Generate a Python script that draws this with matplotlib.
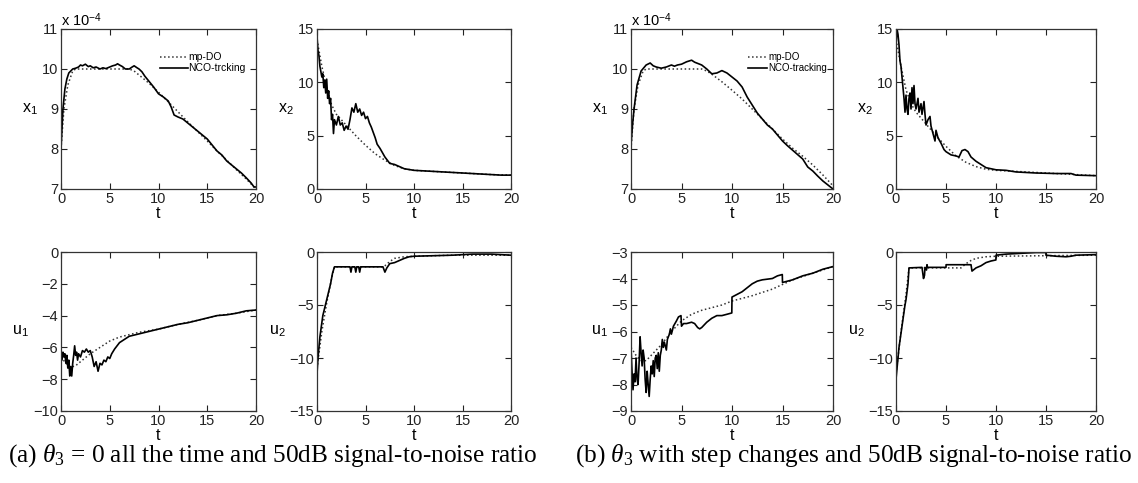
import matplotlib
matplotlib.use("Agg")
import matplotlib.pyplot as plt

plt.rcParams["font.family"] = ["Liberation Sans", "DejaVu Sans"]
plt.rcParams["mathtext.fontset"] = "custom"
plt.rcParams["mathtext.rm"] = "Liberation Serif"
plt.rcParams["mathtext.it"] = "Liberation Serif:italic"
plt.rcParams["mathtext.sf"] = "Liberation Sans"

# ---- data (x1 in units of 1e-4) ----
# shared time grids for the mp-DO (dotted) curves
mp_t_x1 = [0, 0.3, 0.7, 1.2, 1.5, 7.0, 7.5, 8.0, 9.0, 10.0, 11.0, 12.0, 13.0, 14.0, 15.0, 16.0, 17.0, 18.0, 19.0, 20.0]
mp_t_x2 = [0, 0.5, 1.0, 1.5, 2.0, 3.0, 4.0, 5.0, 6.0, 7.0, 8.0, 9.0, 10.0, 12.0, 14.0, 16.0, 18.0, 20.0]
mp_t_u1 = [0, 0.5, 1.0, 1.5, 2.0, 3.0, 4.0, 5.0, 6.0, 7.0, 8.0, 9.0, 10.0, 12.0, 14.0, 16.0, 18.0, 20.0]

# (a) theta3 = 0
a_x1_mp = [8.0, 9.0, 9.6, 9.95, 10.0, 10.0, 9.95, 9.85, 9.65, 9.42, 9.18, 8.93, 8.68, 8.44, 8.2, 7.95, 7.72, 7.48, 7.25, 7.0]
a_x1_t = [0, 0.2, 0.4, 0.6, 0.8, 1.0, 1.2, 1.5, 1.8, 2.0,
          2.2, 2.5, 2.8, 3.0, 3.3, 3.6, 4.0, 4.3, 4.6, 5.0,
          5.3, 5.6, 5.8, 6.0, 6.3, 6.6, 7.0, 7.3, 7.5, 7.8,
          8.0, 8.3, 8.6, 9.0, 9.5, 10.0, 10.5, 11.0, 11.3, 11.6,
          12.0, 12.5, 13.0, 13.5, 14.0, 14.5, 15.0, 15.5, 16.0, 16.5,
          17.0, 17.5, 18.0, 18.5, 19.0, 19.5, 19.8, 20.0]
a_x1_nco = [8.0, 9.0, 9.5, 9.75, 9.9, 9.95, 10.0, 10.02, 10.05, 10.1,
            10.08, 10.12, 10.06, 10.08, 10.03, 10.05, 10.0, 10.03, 10.01, 10.05,
            10.08, 10.1, 10.13, 10.1, 10.06, 10.0, 10.0, 10.05, 10.08, 10.03,
            10.0, 9.93, 9.82, 9.7, 9.55, 9.38, 9.3, 9.2, 9.05, 8.85,
            8.8, 8.75, 8.65, 8.55, 8.45, 8.35, 8.25, 8.1, 7.95, 7.85,
            7.7, 7.6, 7.5, 7.4, 7.28, 7.15, 7.05, 7.05]

a_x2_mp = [14.0, 11.5, 9.5, 7.9, 7.0, 6.0, 5.0, 4.1, 3.3, 2.7, 2.2, 1.9, 1.75, 1.65, 1.55, 1.45, 1.35, 1.3]
a_x2_t = [0, 0.1, 0.2, 0.3, 0.4, 0.5, 0.6, 0.7, 0.8, 0.9,
          1.0, 1.1, 1.2, 1.3, 1.4, 1.5, 1.6, 1.7, 1.8, 2.0,
          2.2, 2.4, 2.6, 2.8, 3.0, 3.2, 3.4, 3.6, 3.8, 4.0,
          4.2, 4.4, 4.6, 4.8, 5.0, 5.2, 5.4, 5.6, 5.8, 6.0,
          6.2, 6.5, 7.0, 7.5, 8.0, 8.5, 9.0, 10.0, 12.0, 14.0,
          16.0, 18.0, 19.0, 20.0]
a_x2_nco = [14.3, 13.0, 12.5, 11.5, 11.0, 10.5, 10.8, 9.5, 10.2, 9.0,
            10.3, 8.5, 9.2, 8.0, 8.5, 6.5, 7.0, 5.2, 6.5, 6.0,
            6.8, 6.0, 6.2, 5.5, 5.9, 5.6, 6.5, 7.6, 7.2, 8.0,
            7.2, 7.5, 6.9, 7.2, 6.6, 6.8, 6.2, 5.8, 5.3, 4.8,
            4.2, 3.8, 3.0, 2.4, 2.3, 2.1, 1.9, 1.75, 1.65, 1.55,
            1.45, 1.35, 1.3, 1.3]

a_u1_mp = [-6.6, -7.0, -7.25, -7.15, -6.9, -6.4, -6.0, -5.6, -5.35, -5.2, -5.05, -4.95, -4.85, -4.55, -4.3, -4.0, -3.85, -3.65]
a_u1_t = [0, 0.1, 0.2, 0.3, 0.4, 0.5, 0.6, 0.7, 0.8, 0.9,
          1.0, 1.1, 1.2, 1.3, 1.4, 1.5, 1.6, 1.7, 1.8, 2.0,
          2.2, 2.4, 2.6, 2.8, 3.0, 3.2, 3.4, 3.6, 3.8, 4.0,
          4.2, 4.4, 4.6, 4.8, 5.0, 5.2, 5.5, 6.0, 6.5, 7.0,
          8.0, 9.0, 10.0, 11.0, 12.0, 13.0, 14.0, 15.0, 16.0, 17.0,
          18.0, 19.0, 20.0]
a_u1_nco = [-6.2, -6.8, -6.3, -6.6, -6.4, -7.0, -6.5, -7.3, -6.8, -7.8,
            -7.2, -7.8, -7.0, -6.5, -5.9, -6.5, -6.3, -6.8, -6.4, -6.6,
            -6.2, -6.3, -6.1, -6.3, -6.2, -6.6, -7.2, -6.9, -7.5, -7.0,
            -7.1, -6.8, -6.9, -6.6, -6.7, -6.4, -6.1, -5.7, -5.5, -5.3,
            -5.15, -5.0, -4.85, -4.7, -4.55, -4.45, -4.3, -4.15, -4.0, -3.95,
            -3.85, -3.7, -3.65]

a_u2_mp_t = [0, 0.5, 1.0, 1.5, 1.8, 6.8, 7.0, 7.5, 8.0, 9.0, 10.0, 14.0, 20.0]
a_u2_mp = [-11.0, -7.5, -4.8, -2.5, -1.4, -1.4, -1.3, -0.9, -0.6, -0.45, -0.4, -0.3, -0.3]
a_u2_t = [0, 0.1, 0.3, 0.6, 1.0, 1.4, 1.6, 1.8, 3.4, 3.5,
          3.6, 3.9, 4.0, 4.1, 4.3, 4.4, 4.5, 6.8, 7.0, 7.2,
          7.5, 8.0, 8.5, 9.0, 9.5, 10.0, 12.0, 14.0, 16.0, 18.0, 20.0]
a_u2_nco = [-11.5, -10.0, -8.0, -6.0, -4.5, -3.0, -2.0, -1.4, -1.4, -1.9,
            -1.4, -1.4, -1.9, -1.4, -1.4, -1.9, -1.4, -1.4, -1.9, -1.5,
            -1.1, -1.0, -0.8, -0.6, -0.45, -0.4, -0.35, -0.3, -0.2, -0.2, -0.3]

# (b) theta3 with step changes
b_x1_mp = [8.0, 9.0, 9.6, 9.95, 10.0, 10.0, 9.95, 9.87, 9.68, 9.47, 9.25, 9.0, 8.75, 8.5, 8.25, 8.02, 7.82, 7.6, 7.35, 7.08]
b_x1_t = [0, 0.15, 0.3, 0.6, 1.0, 1.5, 1.9, 2.2, 2.5, 3.0,
          3.5, 4.0, 4.3, 4.6, 5.0, 5.5, 6.0, 6.3, 6.6, 7.0,
          7.5, 8.0, 8.5, 9.0, 9.5, 10.0, 10.5, 11.0, 11.5, 12.0,
          12.5, 13.0, 13.5, 14.0, 14.5, 15.0, 15.5, 16.0, 16.5, 17.0,
          17.5, 18.0, 18.5, 19.0, 19.5, 20.0]
b_x1_nco = [8.1, 8.6, 9.0, 9.6, 9.95, 10.1, 10.15, 10.08, 10.05, 10.02,
            10.05, 10.1, 10.07, 10.1, 10.12, 10.18, 10.22, 10.17, 10.14, 10.1,
            10.0, 9.88, 9.9, 9.96, 9.9, 9.8, 9.7, 9.55, 9.3, 9.1,
            8.9, 8.75, 8.6, 8.5, 8.35, 8.2, 8.08, 7.97, 7.86, 7.75,
            7.55, 7.45, 7.32, 7.2, 7.1, 7.0]

b_x2_mp = [14.0, 11.5, 9.3, 8.0, 7.2, 6.1, 5.0, 4.0, 3.1, 2.5, 2.1, 1.85, 1.75, 1.65, 1.55, 1.45, 1.35, 1.25]
b_x2_t = [0, 0.1, 0.2, 0.3, 0.4, 0.5, 0.6, 0.7, 0.8, 0.9,
          1.0, 1.1, 1.2, 1.3, 1.4, 1.5, 1.6, 1.7, 1.8, 1.9,
          2.0, 2.2, 2.3, 2.5, 2.6, 2.8, 2.9, 3.0, 3.2, 3.4,
          3.5, 3.7, 3.9, 4.0, 4.2, 4.5, 4.8, 5.0, 5.5, 6.0,
          6.3, 6.6, 6.9, 7.2, 7.5, 8.0, 8.5, 9.0, 10.0, 11.0,
          12.0, 14.0, 16.0, 17.5, 18.0, 20.0]
b_x2_nco = [13.5, 15.0, 14.5, 13.5, 12.0, 11.5, 10.5, 9.5, 8.5, 7.2,
            8.8, 7.5, 7.0, 8.5, 9.0, 7.5, 9.5, 8.0, 9.7, 8.0,
            7.5, 8.5, 7.2, 8.0, 7.0, 8.2, 7.0, 6.0, 6.5, 6.8,
            5.9, 5.2, 4.5, 5.5, 4.8, 4.3, 3.7, 3.5, 3.2, 3.1,
            3.0, 3.6, 3.7, 3.5, 3.0, 2.6, 2.3, 2.0, 1.8, 1.75,
            1.6, 1.5, 1.45, 1.45, 1.3, 1.25]

b_u1_mp = [-6.6, -6.9, -7.1, -7.1, -6.9, -6.5, -6.0, -5.6, -5.35, -5.2, -5.1, -5.0, -4.85, -4.65, -4.4, -4.05, -3.8, -3.55]
b_u1_t = [0, 0.1, 0.2, 0.3, 0.4, 0.5, 0.6, 0.7, 0.8, 0.9,
          1.0, 1.1, 1.2, 1.3, 1.4, 1.5, 1.6, 1.7, 1.8, 1.9,
          2.0, 2.1, 2.2, 2.3, 2.4, 2.5, 2.6, 2.7, 2.8, 2.9,
          3.0, 3.1, 3.2, 3.3, 3.5, 3.6, 3.8, 3.9, 4.0, 4.2,
          4.5, 4.7, 4.95, 5.0, 5.2, 5.5, 6.0, 6.3, 6.6, 6.8,
          7.0, 7.5, 8.0, 8.5, 9.0, 9.5, 9.98, 10.0, 10.5, 11.0,
          11.5, 12.0, 12.5, 13.0, 14.0, 14.5, 14.98, 15.0, 16.0, 17.0,
          18.0, 19.0, 20.0]
b_u1_nco = [-6.6, -7.5, -8.2, -7.6, -7.9, -7.0, -7.8, -8.0, -7.2, -6.2,
            -6.8, -7.3, -6.7, -7.0, -7.8, -8.3, -7.5, -8.0, -8.45, -7.8,
            -7.3, -7.6, -7.1, -7.7, -7.0, -6.9, -7.4, -6.8, -7.5, -6.9,
            -6.7, -6.3, -6.6, -6.4, -6.7, -6.3, -6.1, -5.9, -6.1, -5.8,
            -5.6, -5.45, -5.4, -5.8, -5.7, -5.7, -5.65, -5.7, -5.85, -5.9,
            -5.85, -5.65, -5.5, -5.4, -5.4, -5.35, -5.3, -4.7, -4.6, -4.5,
            -4.35, -4.2, -4.1, -4.05, -4.0, -3.9, -3.85, -4.15, -4.05, -3.9,
            -3.8, -3.65, -3.55]

b_u2_mp_t = [0, 0.5, 1.0, 1.3, 6.5, 7.0, 7.5, 8.0, 9.0, 10.0, 15.0, 20.0]
b_u2_mp = [-11.5, -7.5, -4.0, -1.5, -1.5, -1.1, -0.8, -0.6, -0.45, -0.4, -0.35, -0.3]
b_u2_t = [0, 0.3, 0.6, 0.9, 1.0, 1.2, 1.3, 2.6, 2.75, 2.85,
          2.9, 3.05, 3.1, 3.15, 5.0, 5.01, 7.5, 7.6, 8.0, 8.5,
          9.0, 9.5, 9.99, 10.0, 11.0, 12.0, 13.0, 14.0, 14.99, 15.0,
          16.0, 17.0, 17.5, 18.0, 20.0]
b_u2_nco = [-12.0, -9.0, -7.0, -5.0, -4.5, -3.0, -1.5, -1.45, -2.5, -2.2,
            -1.45, -1.7, -1.2, -1.45, -1.45, -1.2, -1.2, -1.8, -1.5, -1.3,
            -1.0, -0.85, -0.75, -0.3, -0.2, -0.15, -0.1, -0.05, -0.05, -0.3,
            -0.4, -0.45, -0.4, -0.3, -0.25]

captions = [r"(a) $\theta_\mathrm{3}$ = 0 all the time and 50dB signal-to-noise ratio",
            r"(b) $\theta_\mathrm{3}$ with step changes and 50dB signal-to-noise ratio"]
legend_names = [["mp-DO", "NCO-trcking"], ["mp-DO", "NCO-tracking"]]

fig = plt.figure(figsize=(11.38, 4.83), dpi=100)
W, H = 1138.0, 483.0


def make_ax(left, top, right, bottom):
    return fig.add_axes([left / W, 1 - bottom / H, (right - left) / W, (bottom - top) / H])


def style(ax, ylim, yticks, ylab):
    ax.set_xlim(0, 20)
    ax.set_ylim(*ylim)
    ax.set_xticks([0, 5, 10, 15, 20])
    ax.set_yticks(yticks)
    ax.tick_params(direction="in", top=True, right=True, length=4, width=0.8,
                   labelsize=10.5, pad=2, colors="#222222")
    for s in ax.spines.values():
        s.set_linewidth(0.9)
        s.set_color("#333333")
    ax.set_xlabel("t", fontsize=11.5, labelpad=0)
    ax.set_ylabel(ylab, fontsize=11.5, rotation=0, ha="right", va="center", labelpad=3)


dot = dict(color="#333333", ls=":", lw=1.1)
sol = dict(color="black", ls="-", lw=1.2)

cols = [((61, 256), (317, 511)), ((631, 833), (896, 1096))]
panels = [
    (a_x1_mp, a_x1_t, a_x1_nco, a_x2_mp, a_x2_t, a_x2_nco,
     a_u1_mp, a_u1_t, a_u1_nco, a_u2_mp_t, a_u2_mp, a_u2_t, a_u2_nco, (-10, 0), range(-10, 1, 2)),
    (b_x1_mp, b_x1_t, b_x1_nco, b_x2_mp, b_x2_t, b_x2_nco,
     b_u1_mp, b_u1_t, b_u1_nco, b_u2_mp_t, b_u2_mp, b_u2_t, b_u2_nco, (-9, -3), range(-9, -2, 1)),
]

for k, p in enumerate(panels):
    (x1mp, x1t, x1n, x2mp, x2t, x2n, u1mp, u1t, u1n, u2mpt, u2mp, u2t, u2n, u1lim, u1ticks) = p
    (l1, r1), (l2, r2) = cols[k]

    ax = make_ax(l1, 29, r1, 189)
    ax.plot(mp_t_x1, x1mp, label=legend_names[k][0], **dot)
    ax.plot(x1t, x1n, label=legend_names[k][1], **sol)
    style(ax, (7, 11), [7, 8, 9, 10, 11], r"x$_\mathsf{1}$")
    ax.text(0.0, 1.0, r"x 10$^\mathsf{-4}$", transform=ax.transAxes, fontsize=10.5,
            ha="left", va="bottom")
    fs = 7.5 if k == 0 else 7
    ax.legend(loc="upper right", bbox_to_anchor=(0.97, 0.88) if k == 0 else (0.99, 0.88),
              frameon=False, fontsize=fs, handlelength=2.6 if k == 0 else 2.0,
              handletextpad=0.1, labelspacing=0.1, borderaxespad=0)

    ax = make_ax(l2, 29, r2, 189)
    ax.plot(mp_t_x2, x2mp, **dot)
    ax.plot(x2t, x2n, **sol)
    style(ax, (0, 15), [0, 5, 10, 15], r"x$_\mathsf{2}$")

    ax = make_ax(l1, 252, r1, 411)
    ax.plot(mp_t_u1, u1mp, **dot)
    ax.plot(u1t, u1n, **sol)
    style(ax, u1lim, list(u1ticks), r"u$_\mathsf{1}$")

    ax = make_ax(l2, 252, r2, 411)
    ax.plot(u2mpt, u2mp, **dot)
    ax.plot(u2t, u2n, **sol)
    style(ax, (-15, 0), [-15, -10, -5, 0], r"u$_\mathsf{2}$")

fig.text(8 / W, 1 - 456 / H, captions[0], fontsize=18.2, family="Liberation Serif",
         ha="left", va="center")
fig.text(575 / W, 1 - 456 / H, captions[1], fontsize=18.2, family="Liberation Serif",
         ha="left", va="center")

fig.savefig("out.png", dpi=100)
